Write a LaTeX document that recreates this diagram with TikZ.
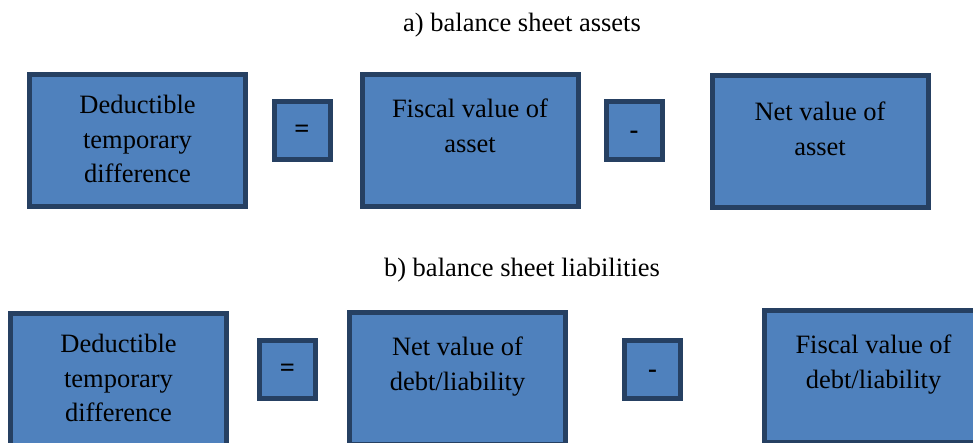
\documentclass[tikz,border=0pt]{standalone}
\usepackage{fontspec}
\setmainfont{Liberation Serif}
\definecolor{boxfill}{HTML}{4F81BD}
\definecolor{boxline}{RGB}{38,64,98}
\tikzset{
  box/.style={draw=boxline, fill=boxfill, line width=5pt, rectangle, inner sep=0pt},
  bigbox/.style={box, minimum width=216pt, minimum height=132pt},
  opbox/.style={box, minimum width=56pt, minimum height=58pt},
  txt/.style={font=\fontsize{26.5}{34.5}\selectfont, align=center, anchor=north, inner sep=0pt, text=black},
  optxt/.style={txt, anchor=center, font=\fontsize{26.5}{34.5}\selectfont\bfseries},
}
\begin{document}
\begin{tikzpicture}[x=1pt, y=-1pt]
\useasboundingbox (0,0) rectangle (973,443);
\clip (0,0) rectangle (973,443);
\fill[white] (0,0) rectangle (973,443);
% titles
\node[txt] (ta) at (522,13) {a) balance sheet assets};
\node[txt] (tb) at (522,258) {b) balance sheet liabilities};
% row a
\node[bigbox] (a1) at (137.5,140.5) {};
\node[opbox] (aeq) at (302,130.5) {};
\node[bigbox] (a2) at (470,140.5) {};
\node[opbox] (amin) at (634,130.5) {};
\node[bigbox] (a3) at (820,142) {};
\node[txt] (a1t) at (137.5,95) {Deductible\\temporary\\difference};
\node[optxt] (aeqt) at (302,131) {=};
\node[txt] (a2t) at (470,99) {Fiscal value of\\asset};
\node[optxt] (amint) at (634,135) {-};
\node[txt] (a3t) at (820,102) {Net value of\\asset};
% row b
\node[bigbox] (b1) at (118.5,379.5) {};
\node[opbox] (beq) at (287.5,369.5) {};
\node[bigbox] (b2) at (457.5,378) {};
\node[opbox] (bmin) at (652.5,369.5) {};
\node[bigbox] (b3) at (872.5,376) {};
\node[txt] (b1t) at (118.5,334) {Deductible\\temporary\\difference};
\node[optxt] (beqt) at (287.5,370) {=};
\node[txt] (b2t) at (457.5,337) {Net value of\\debt/liability};
\node[optxt] (bmint) at (652.5,374) {-};
\node[txt] (b3t) at (873.5,335) {Fiscal value of\\debt/liability};
\end{tikzpicture}
\end{document}
